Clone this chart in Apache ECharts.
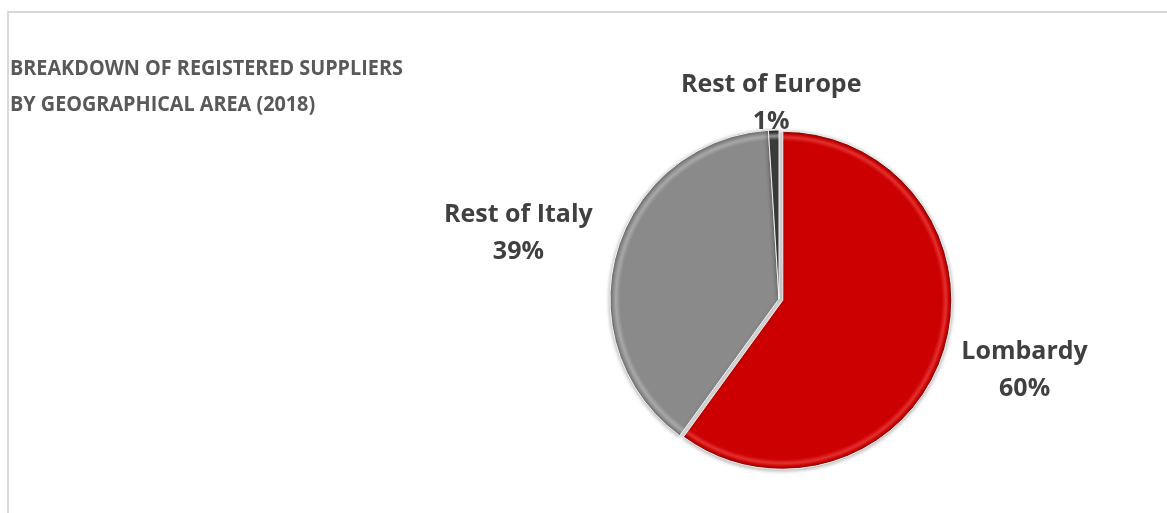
<!DOCTYPE html>
<html>
<head>
<meta charset="utf-8">
<script src="https://cdn.jsdelivr.net/npm/echarts@6/dist/echarts.min.js"></script>
<style>
  html, body { margin: 0; padding: 0; background: #fff; }
  #chart { width: 1167px; height: 513px; }
</style>
</head>
<body>
<div id="chart"></div>
<script>
// data
const categories = ["Lombardy", "Rest of Italy", "Rest of Europe"];
const shares = [60, 39, 1];

const titleLines = ["BREAKDOWN OF REGISTERED SUPPLIERS", "BY GEOGRAPHICAL AREA (2018)"];

// pie geometry
const cx = 779, cy = 299, R = 169;
const labelGaps = [26, 28, -10];

function bevel(base, rim, light) {
	return {
		type: "radial",
		x: cx, y: cy, r: R,
		global: true,
		colorStops: [
			{ offset: 0, color: base },
			{ offset: 0.94, color: base },
			{ offset: 0.965, color: light },
			{ offset: 0.985, color: base },
			{ offset: 1, color: rim },
		],
	};
}

const sliceStyles = [
	bevel("#cc0000", "#6e1010", "#e23030"),
	bevel("#8a8a8a", "#6a6a6a", "#a8a8a8"),
	bevel("#3c3c3c", "#2a2a2a", "#9a9a9a"),
];

const total = shares.reduce((a, b) => a + b, 0);

function midAngle(i) {
	let before = 0;
	for (let k = 0; k < i; k++) before += shares[k];
	const frac = (before + shares[i] / 2) / total;
	return ((90 - frac * 360) * Math.PI) / 180;
}

const chart = echarts.init(document.getElementById("chart"));

chart.setOption({
	animation: false,
	graphic: [
		{
			type: "rect",
			shape: { x: 8, y: 12, width: 3000, height: 3000 },
			style: { fill: "none", stroke: "#d9d9d9", lineWidth: 2 },
			silent: true,
		},
		{
			type: "text",
			x: 10,
			y: 51,
			scaleX: 0.9,
			style: {
				text: titleLines.join("\n"),
				font: "bold 22px 'Open Sans'",
				lineHeight: 36,
				fill: "#595959",
			},
		},
	],
	series: [
		// the slices, Lombardy pulled out a little
		{
			type: "pie",
			center: [cx, cy],
			radius: R,
			startAngle: 90,
			clockwise: true,
			selectedMode: "single",
			selectedOffset: 4,
			emphasis: { disabled: true },
			itemStyle: {
				borderColor: "rgba(255,255,255,0.9)",
				borderWidth: 1,
				shadowBlur: 4,
				shadowColor: "rgba(0,0,0,0.35)",
				shadowOffsetY: 1,
			},
			label: { show: false },
			labelLine: { show: false },
			data: categories.map((name, i) => ({
				name: name,
				value: shares[i],
				selected: i === 0,
				itemStyle: { color: sliceStyles[i] },
			})),
		},
		// same data, invisible, only carries the labels
		{
			type: "pie",
			center: [cx, cy],
			radius: R,
			startAngle: 90,
			clockwise: true,
			silent: true,
			avoidLabelOverlap: false,
			itemStyle: { color: "transparent" },
			label: {
				show: true,
				position: "outside",
				formatter: "{b}\n{c}%",
				fontFamily: "Open Sans",
				fontWeight: "bold",
				fontSize: 25,
				lineHeight: 37,
				color: "#404040",
				align: "center",
			},
			labelLine: { show: false },
			labelLayout: function (p) {
				const i = p.dataIndex;
				const a = midAngle(i);
				const ux = Math.cos(a), uy = -Math.sin(a);
				const w = p.labelRect.width, h = p.labelRect.height;
				const d = R + labelGaps[i];
				return {
					x: cx + ux * d + (ux * w) / 2,
					y: cy + uy * d + (uy * h) / 2,
					align: "center",
					verticalAlign: "middle",
				};
			},
			data: categories.map((name, i) => ({ name: name, value: shares[i] })),
		},
	],
});
</script>
</body>
</html>
